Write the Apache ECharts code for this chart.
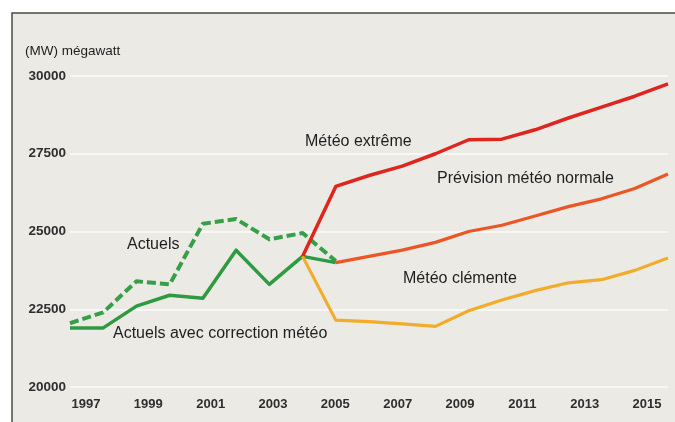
<!DOCTYPE html>
<html>
<head>
<meta charset="utf-8">
<script src="https://cdn.jsdelivr.net/npm/echarts@6/dist/echarts.min.js"></script>
<style>
  html, body { margin: 0; padding: 0; background: #ffffff; }
  #chart { width: 675px; height: 422px; }
</style>
</head>
<body>
<div id="chart"></div>
<script>
// Years carried by the data series
const years = ['1997','1998','1999','2000','2001','2002','2003','2004','2005','2006',
               '2007','2008','2009','2010','2011','2012','2013','2014','2015'];
// Year labels printed under the plot
const yearLabels = ['1997','1998','1999','2000','2001','2002','2003','2004','2005','2006',
                    '2007','2008','2009','2010','2011','2012','2013','2014','2015'];
// Y axis range (MW)
const yMin = 20000, yMax = 30000, yStep = 2500;

// Consommation observée
const actuels = [22050, 22400, 23400, 23300, 25250, 25400, 24750, 24950, 24050,
                 null, null, null, null, null, null, null, null, null, null];
// Observée, corrigée des effets météo
const actuelsCorriges = [21900, 21900, 22600, 22950, 22850, 24400, 23300, 24200, 24000,
                         null, null, null, null, null, null, null, null, null, null];
// Scénarios de prévision
const meteoExtreme = [null, null, null, null, null, null, null, 24200, 26450, 26800,
                      27100, 27500, 27950, 27970, 28270, 28650, 29000, 29350, 29750];
const previsionNormale = [null, null, null, null, null, null, null, null, 24000, 24200,
                          24400, 24650, 25000, 25200, 25500, 25800, 26050, 26380, 26850];
const meteoClemente = [null, null, null, null, null, null, null, 24200, 22150, 22100,
                       22030, 21950, 22450, 22800, 23100, 23350, 23450, 23750, 24150];

const FONT = '"Liberation Sans", Arial, Helvetica, sans-serif';
const chart = echarts.init(document.getElementById('chart'), null, { renderer: 'canvas' });

function line(name, data, color, width, dashed) {
  return {
    name, type: 'line', data,
    xAxisIndex: 0, yAxisIndex: 0,
    symbol: 'none', connectNulls: false,
    lineStyle: { color, width, type: dashed ? [9, 4] : 'solid', cap: 'butt', join: 'round' },
    z: 3
  };
}

function note(text, left, y, size) {
  return {
    type: 'text', left, top: y - size * 0.6,
    style: { text, fill: '#1e1e1e', font: `${size}px ${FONT}` },
    z: 10
  };
}

chart.setOption({
  animation: false,
  backgroundColor: '#ffffff',
  graphic: [
    {
      type: 'rect', shape: { x: 12, y: 13, width: 700, height: 450 },
      style: { fill: '#ebeae4', stroke: '#4a4a4a', lineWidth: 1.5 }, z: -10, silent: true
    },
    note('(MW) mégawatt', 25, 52, 13.5),
    note('Météo extrême', 305, 143, 16),
    note('Prévision météo normale', 437, 180, 16),
    note('Météo clémente', 403, 280, 16),
    note('Actuels', 127, 246, 16),
    note('Actuels avec correction météo', 113, 335, 16)
  ],
  grid: [
    { left: 70, right: 7, top: 76, bottom: 35 },
    { left: 86, right: 28, top: 76, bottom: 35 }
  ],
  xAxis: [
    {
      gridIndex: 0, type: 'category', data: years, boundaryGap: false,
      axisLine: { show: false }, axisTick: { show: false }, axisLabel: { show: false },
      splitLine: { show: false }
    },
    {
      gridIndex: 1, type: 'category', data: yearLabels, boundaryGap: false,
      axisLine: { show: false }, axisTick: { show: false }, splitLine: { show: false },
      axisLabel: {
        interval: 1, margin: 11, color: '#2e2e2e', fontSize: 13, fontWeight: 'bold',
        fontFamily: FONT
      }
    }
  ],
  yAxis: [
    {
      gridIndex: 0, type: 'value', min: yMin, max: yMax, interval: yStep,
      axisLine: { show: false }, axisTick: { show: false },
      axisLabel: {
        margin: 4, color: '#2e2e2e', fontSize: 13.5, fontWeight: 'bold', fontFamily: FONT,
        formatter: v => String(v)
      },
      splitLine: { lineStyle: { color: '#fbfbf8', width: 1.5 } }
    },
    {
      gridIndex: 1, type: 'value', min: yMin, max: yMax, show: false,
      splitLine: { show: false }
    }
  ],
  series: [
    line('Actuels', actuels, '#36a046', 4, true),
    line('Actuels avec correction météo', actuelsCorriges, '#2e9a42', 3.5, false),
    line('Météo extrême', meteoExtreme, '#e0251e', 3.5, false),
    line('Prévision météo normale', previsionNormale, '#ec5526', 3.2, false),
    line('Météo clémente', meteoClemente, '#f2ac2a', 3.2, false)
  ]
});
</script>
</body>
</html>
